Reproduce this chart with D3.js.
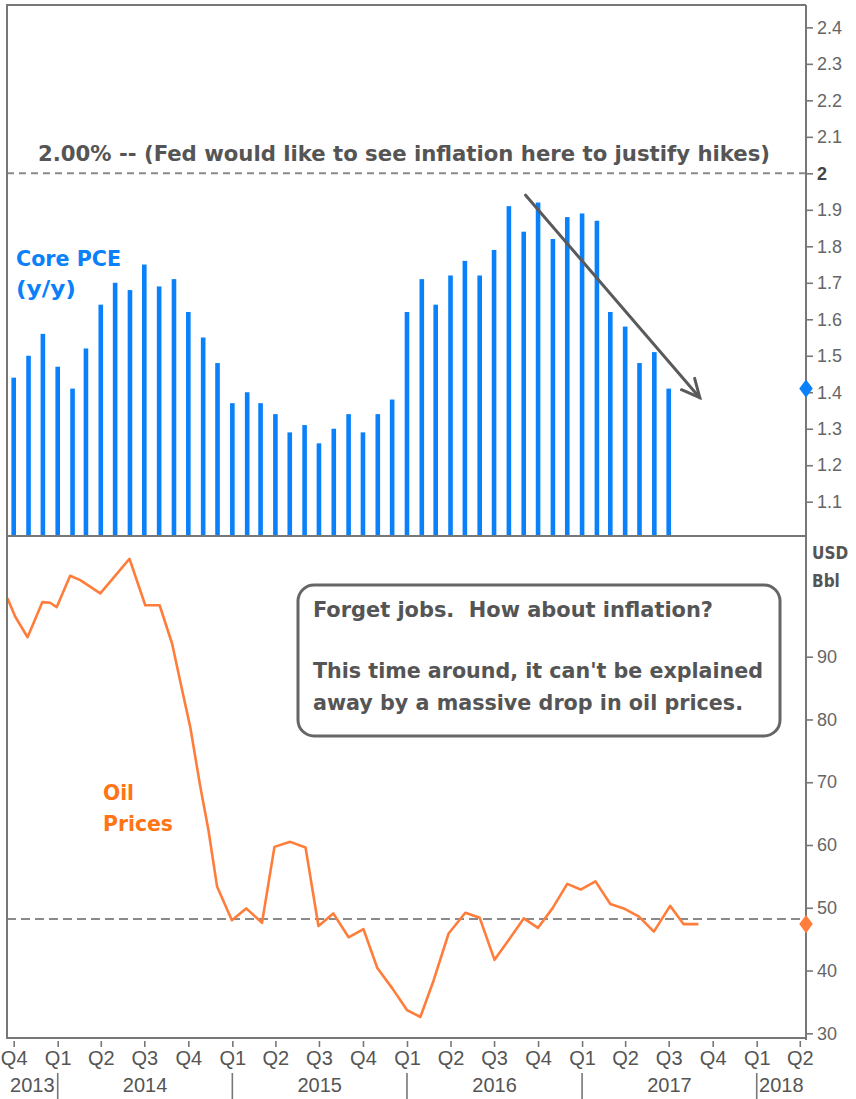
<!DOCTYPE html>
<html><head><meta charset="utf-8">
<script src="https://cdn.jsdelivr.net/npm/d3@7"></script>
<style>
html,body{margin:0;padding:0;background:#fff;}
svg{display:block;}
text{white-space:pre;}
</style></head>
<body>
<svg id="chart" width="856" height="1099"></svg>
<script>
// ---------- DATA ----------
const pceStart = "2013-10-01"; // first monthly bar
const pceValues = [1.44,1.50,1.56,
  1.47,1.41,1.52,1.64,1.70,1.68,1.75,1.69,1.71,1.62,1.55,1.48,
  1.37,1.40,1.37,1.34,1.29,1.31,1.26,1.30,1.34,1.29,1.34,1.38,
  1.62,1.71,1.64,1.72,1.76,1.72,1.79,1.91,1.84,1.92,1.82,1.88,
  1.89,1.87,1.62,1.58,1.48,1.51,1.41];
const oilDates = ["2013-09-18","2013-10-04","2013-10-30","2013-11-30","2013-12-16","2013-12-30",
  "2014-01-27","2014-02-17","2014-03-31","2014-05-08","2014-05-31","2014-07-03","2014-08-02",
  "2014-08-28","2014-09-18","2014-10-05","2014-10-26","2014-11-12","2014-11-30","2014-12-31",
  "2015-01-30","2015-03-04","2015-03-30","2015-05-02","2015-06-03","2015-06-30","2015-07-31",
  "2015-09-01","2015-10-02","2015-10-31","2015-12-01","2016-01-01","2016-01-29","2016-02-26",
  "2016-03-28","2016-05-02","2016-06-01","2016-07-02","2016-08-01","2016-09-01","2016-10-01",
  "2016-10-31","2016-12-01","2016-12-29","2017-01-29","2017-03-01","2017-03-29","2017-04-30",
  "2017-05-31","2017-07-04","2017-08-01","2017-09-01"];
const oilValues = [99.3,96.4,93.1,98.7,98.6,97.9,
  102.9,102.2,100.1,103.5,105.6,98.2,98.2,
  92.1,84.7,78.8,69.3,62.4,53.4,48.0,
  49.9,47.6,59.7,60.5,59.6,47.1,49.1,
  45.3,46.6,40.4,37.2,33.7,32.6,38.5,
  45.9,49.2,48.4,41.7,44.9,48.3,46.8,
  49.9,53.8,52.9,54.2,50.6,49.9,48.6,
  46.2,50.3,47.4,47.4];
const pceTicks = [1.1,1.2,1.3,1.4,1.5,1.6,1.7,1.8,1.9,2,2.1,2.2,2.3,2.4];
const oilTicks = [30,40,50,60,70,80,90];
const quarterLabels = ["Q4","Q1","Q2","Q3","Q4","Q1","Q2","Q3","Q4","Q1","Q2","Q3","Q4","Q1","Q2","Q3","Q4","Q1","Q2"];
const yearLabels = ["2013","2014","2015","2016","2017","2018"];
const fedTarget = 2.0;
const oilRef = 48.2;
const pceLast = 1.41;
const oilLast = 47.4;
const arrowDates = ["2016-09-05","2017-09-04"];
const arrowValues = [1.94,1.385];
const titleText = "2.00% -- (Fed would like to see inflation here to justify hikes)";
const boxLines = ["Forget jobs.  How about inflation?", "", "This time around, it can't be explained", "away by a massive drop in oil prices."];

// ---------- LAYOUT ----------
const L = 7, R = 806, T = 5, MID = 536, B = 1038;
const parse = d3.utcParse("%Y-%m-%d");
const x = d3.scaleUtc().domain([parse("2013-09-17"), parse("2018-04-14")]).range([L, R]);
const yP = d3.scaleLinear().domain([1.0, 2.475]).range([538.2, 0]);
const yO = d3.scaleLinear().domain([30, 90]).range([1033.3, 656.7]);

const svg = d3.select("#chart");
const BOLD = "'DejaVu Sans Condensed','DejaVu Sans',Verdana,sans-serif";
const AX = "'Liberation Sans','Arial',sans-serif";
const NARROW = "'Liberation Sans Narrow','Arial Narrow','Liberation Sans',sans-serif";
const blue = "#0a80fa", orange = "#ff7d3b", gray = "#666";

function fit(sel, w){
  sel.each(function(){
    const n = this.getComputedTextLength();
    if (Math.abs(n - w) > 1) d3.select(this).attr("textLength", w).attr("lengthAdjust", "spacingAndGlyphs");
  });
  return sel;
}

svg.append("defs").append("clipPath").attr("id","clipB")
  .append("rect").attr("x", L).attr("y", MID).attr("width", R-L).attr("height", B-MID);
svg.append("defs").append("clipPath").attr("id","clipT")
  .append("rect").attr("x", L).attr("y", T).attr("width", R-L).attr("height", MID-T);

// ---------- TOP PANEL: bars ----------
const pceData = pceValues.map((v,i) => ({d: d3.utcMonth.offset(parse(pceStart), i), v}));
svg.append("g").attr("clip-path","url(#clipT)").selectAll("rect").data(pceData).join("rect")
  .attr("x", d => x(d.d) - 2.3).attr("width", 4.6)
  .attr("y", d => yP(d.v)).attr("height", d => MID - yP(d.v))
  .attr("fill", blue);

// 2% line
svg.append("line").attr("x1", L).attr("x2", R).attr("y1", yP(fedTarget)).attr("y2", yP(fedTarget))
  .attr("stroke", "#8a8a8a").attr("stroke-width", 2).attr("stroke-dasharray", "7,5");

fit(svg.append("text").attr("x", 38).attr("y", 161).attr("font-family", BOLD).attr("font-weight", "bold")
  .attr("font-size", 21).attr("fill", "#555").text(titleText), 732);

fit(svg.append("text").attr("x", 16).attr("y", 266).attr("font-family", BOLD).attr("font-weight","bold")
  .attr("font-size", 21).attr("fill", blue).text("Core PCE"), 105);
fit(svg.append("text").attr("x", 16).attr("y", 296).attr("font-family", BOLD).attr("font-weight","bold")
  .attr("font-size", 21).attr("fill", blue).text("(y/y)"), 60);

// arrow
const ax1 = x(parse(arrowDates[0])), ay1 = yP(arrowValues[0]);
const ax2 = x(parse(arrowDates[1])), ay2 = yP(arrowValues[1]);
svg.append("line").attr("x1", ax1).attr("y1", ay1).attr("x2", ax2).attr("y2", ay2)
  .attr("stroke", "#5a5a5a").attr("stroke-width", 3).attr("stroke-linecap","round");
{
  const ang = Math.atan2(ay2-ay1, ax2-ax1), len = 20, spread = 0.45;
  const p1 = [ax2 - len*Math.cos(ang - spread), ay2 - len*Math.sin(ang - spread)];
  const p2 = [ax2 - len*Math.cos(ang + spread), ay2 - len*Math.sin(ang + spread)];
  svg.append("path").attr("d", `M${p1[0]},${p1[1]}L${ax2},${ay2}L${p2[0]},${p2[1]}`)
    .attr("fill","none").attr("stroke","#5a5a5a").attr("stroke-width",3).attr("stroke-linejoin","miter").attr("stroke-linecap","round");
}

// ---------- BOTTOM PANEL: oil ----------
const oilData = oilDates.map((d,i) => ({d: parse(d), v: oilValues[i]}));
svg.append("line").attr("x1", L).attr("x2", R).attr("y1", yO(oilRef)).attr("y2", yO(oilRef))
  .attr("stroke", "#8a8a8a").attr("stroke-width", 2).attr("stroke-dasharray", "9,5");
svg.append("path").attr("clip-path","url(#clipB)").datum(oilData)
  .attr("d", d3.line().x(d => x(d.d)).y(d => yO(d.v)))
  .attr("fill","none").attr("stroke", orange).attr("stroke-width", 2.6).attr("stroke-linejoin","round");

fit(svg.append("text").attr("x", 103).attr("y", 800).attr("font-family", BOLD).attr("font-weight","bold")
  .attr("font-size", 21).attr("fill", "#ff7414").text("Oil"), 31);
fit(svg.append("text").attr("x", 103).attr("y", 831).attr("font-family", BOLD).attr("font-weight","bold")
  .attr("font-size", 21).attr("fill", "#ff7414").text("Prices"), 70);

// text box
svg.append("rect").attr("x", 298).attr("y", 585).attr("width", 482).attr("height", 151).attr("rx", 16)
  .attr("fill", "#fff").attr("stroke", "#666").attr("stroke-width", 3);
const boxY = [617, 0, 678, 710], boxW = [400, 0, 450, 430];
boxLines.forEach((t,i) => {
  if (!t) return;
  fit(svg.append("text").attr("x", 313).attr("y", boxY[i]).attr("font-family", BOLD).attr("font-weight","bold")
    .attr("font-size", 21).attr("fill", "#555").text(t), boxW[i]);
});

// ---------- FRAME ----------
const frame = svg.append("g").attr("stroke", "#777").attr("stroke-width", 2).attr("fill","none");
frame.append("path").attr("d", `M${R},${T}H${L}V${B}H${R}`);
frame.append("line").attr("x1", L).attr("x2", R).attr("y1", MID).attr("y2", MID);
frame.append("line").attr("x1", R).attr("x2", R).attr("y1", T).attr("y2", B + 2);

// ---------- RIGHT AXES ----------
const gP = svg.append("g").attr("transform", `translate(${R},0)`)
  .call(d3.axisRight(yP).tickValues(pceTicks).tickSize(7).tickPadding(4).tickFormat(d3.format("")));
const gO = svg.append("g").attr("transform", `translate(${R},0)`)
  .call(d3.axisRight(yO).tickValues(oilTicks).tickSize(7).tickPadding(4).tickFormat(d3.format("")));
[gP, gO].forEach(g => {
  g.select(".domain").remove();
  g.selectAll(".tick line").attr("stroke", "#777").attr("stroke-width", 1.6);
  g.selectAll(".tick text").attr("font-family", AX).attr("font-size", 18).attr("fill", "#666");
});
gP.selectAll(".tick").filter(d => d === 2).select("text").attr("font-weight","bold").attr("fill","#444");

svg.append("text").attr("x", 812).attr("y", 559).attr("font-family", BOLD).attr("font-weight","bold")
  .attr("font-size", 17).attr("fill", "#555").text("USD");
svg.append("text").attr("x", 812).attr("y", 587).attr("font-family", BOLD).attr("font-weight","bold")
  .attr("font-size", 17).attr("fill", "#555").text("Bbl");

// last-value diamonds
const diamond = d3.symbol().type(d3.symbolDiamond).size(120);
svg.append("path").attr("d", diamond).attr("transform", `translate(${R},${yP(pceLast)}) scale(1.15,0.9)`).attr("fill", blue);
svg.append("path").attr("d", diamond).attr("transform", `translate(${R},${yO(oilLast)}) scale(1.15,0.9)`).attr("fill", orange);

// ---------- BOTTOM X AXIS ----------
const qDates = d3.utcMonth.every(3).range(parse("2013-10-01"), parse("2018-04-02"));
const gX = svg.append("g").attr("transform", `translate(0,${B})`)
  .call(d3.axisBottom(x).tickValues(qDates).tickSize(9).tickPadding(7)
    .tickFormat((d,i) => quarterLabels[i]));
gX.select(".domain").remove();
gX.selectAll(".tick line").attr("stroke", "#777").attr("stroke-width", 1.6).attr("y1", 3);
gX.selectAll(".tick text").attr("font-family", NARROW).attr("font-size", 20).attr("fill", "#555")
  .attr("dy", null).attr("y", 27);

const yearStarts = yearLabels.map(y => parse(y + "-01-01"));
svg.append("g").selectAll("line").data(yearStarts.slice(1)).join("line")
  .attr("x1", d => x(d)).attr("x2", d => x(d)).attr("y1", 1073).attr("y2", 1099)
  .attr("stroke", "#777").attr("stroke-width", 1.6);
svg.append("g").selectAll("text").data(yearLabels).join("text")
  .attr("x", (d,i) => {
    const a = Math.max(L, x(yearStarts[i]));
    const b = Math.min(R, x(d3.utcYear.offset(yearStarts[i], 1)));
    return (a + b) / 2;
  })
  .attr("y", 1092).attr("text-anchor", "middle").attr("font-family", NARROW).attr("font-size", 20)
  .attr("fill", "#555").text(d => d);
</script>
</body></html>
